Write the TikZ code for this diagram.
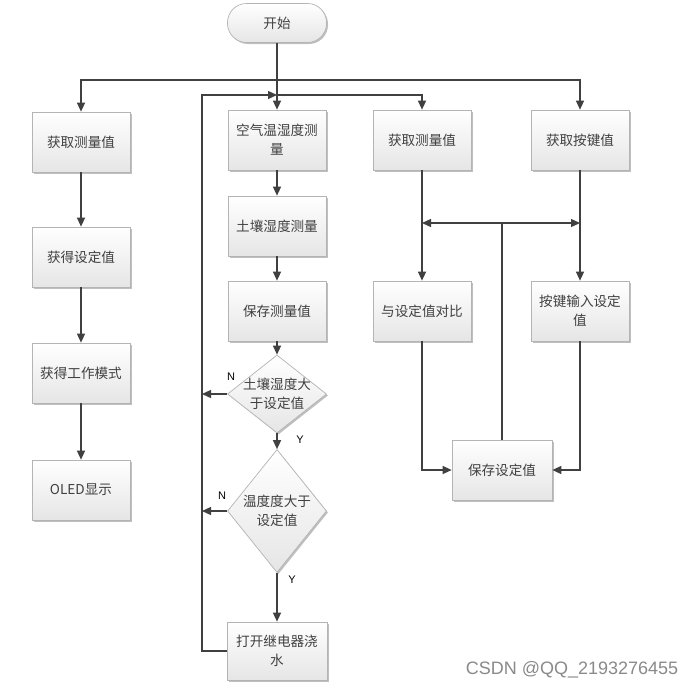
\documentclass[tikz,border=0pt]{standalone}
\usepackage{fontspec}
\setmainfont{Noto Sans CJK SC}
\newfontfamily\latinfont{Liberation Sans}
\usetikzlibrary{arrows.meta,shapes.geometric,shadows}
\definecolor{ln}{HTML}{404040}
\definecolor{bd}{HTML}{B4B4B4}
\definecolor{tx}{HTML}{404040}
\definecolor{wmc}{HTML}{8A8A8A}
\begin{document}
\begin{tikzpicture}[x=1pt,y=-1pt,
  shd/.style={drop shadow={shadow xshift=1.5pt,shadow yshift=-1.5pt,opacity=0.25,fill=black}},
  box/.style={shd,draw=bd,line width=0.7pt,top color=white,bottom color=black!10,
    minimum width=98pt,minimum height=60pt,inner sep=2pt,align=center,
    font=\fontsize{13.6}{19}\selectfont,text=tx},
  term/.style={box,rounded corners=19pt,minimum width=99pt,minimum height=39pt},
  dia/.style={shd,diamond,draw=bd,line width=0.7pt,top color=white,bottom color=black!10,
    inner sep=0pt,minimum width=99pt},
  dtxt/.style={align=center,font=\fontsize{13.6}{19}\selectfont,text=tx},
  conn/.style={draw=ln,line width=1.3pt},
  arr/.style={conn,-{Triangle[length=9pt,width=8pt]}},
  yn/.style={font=\latinfont\fontsize{11}{13}\selectfont,text=black}
]
\useasboundingbox (0,0) rectangle (696,689);
\fill[white] (0,0) rectangle (696,689);

% nodes
\node[term] (start) at (277,23) {开始};

\node[box] (c1a) at (81,142) {获取测量值};
\node[box] (c1b) at (81,257) {获得设定值};
\node[box] (c1c) at (81,373) {获得工作模式};
\node[box] (c1d) at (81,490) {OLED显示};

\node[box] (c2a) at (277,140) {空气温湿度测\\量};
\node[box] (c2b) at (277,226) {土壤湿度测量};
\node[box] (c2c) at (277,311) {保存测量值};
\node[dia,minimum height=78pt] (d1) at (277,394) {};
\node[dtxt] (d1t) at (277,394) {土壤湿度大\\于设定值};
\node[dia,minimum height=123pt] (d2) at (277,511) {};
\node[dtxt] (d2t) at (277,511) {温度度大于\\设定值};
\node[box,minimum width=100pt,minimum height=58pt] (c2d) at (277,651) {打开继电器浇\\水};

\node[box] (c3a) at (422,140) {获取测量值};
\node[box] (c3b) at (422,311) {与设定值对比};
\node[box] (c4a) at (580,140) {获取按键值};
\node[box] (c4b) at (580,311) {按键输入设定\\值};
\node[box,minimum width=100pt] (save) at (502,470) {保存设定值};

% labels
\node[yn] (n1) at (231,377) {N};
\node[yn] (n2) at (222,496) {N};
\node[yn] (y1) at (300,440) {Y};
\node[yn] (y2) at (292,580) {Y};

% connectors
\coordinate (j1) at (277,80);
\coordinate (j2) at (277,95);
\coordinate (lp) at (202,95);
\coordinate (hb) at (502,223);

\draw[arr] (start) -- (c2a);
\draw[arr] (j1) -| (c1a);
\draw[arr] (j1) -| (c4a);
\draw[arr] (c2d.west) -| (lp) -- (j2);
\draw[arr] (j2) -| (c3a);

\draw[arr] (c1a) -- (c1b);
\draw[arr] (c1b) -- (c1c);
\draw[arr] (c1c) -- (c1d);

\draw[arr] (c2a) -- (c2b);
\draw[arr] (c2b) -- (c2c);
\draw[arr] (c2c) -- (d1);
\draw[arr] (d1) -- (d2);
\draw[arr] (d2) -- (c2d);
\draw[arr] (d1.west) -- (d1.west -| lp);
\draw[arr] (d2.west) -- (d2.west -| lp);

\draw[arr] (c3a) -- (c3b);
\draw[arr] (c4a) -- (c4b);
\draw[conn] (save.north) -- (hb);
\draw[arr] (hb) -- (hb -| c3a);
\draw[arr] (hb) -- (hb -| c4a);
\draw[arr] (c3b.south) |- (save.west);
\draw[arr] (c4b.south) |- (save.east);

\node[font=\latinfont\fontsize{18}{20}\selectfont,text=wmc] (wm) at (572,670) {CSDN @QQ\_2193276455};
\end{tikzpicture}
\end{document}
